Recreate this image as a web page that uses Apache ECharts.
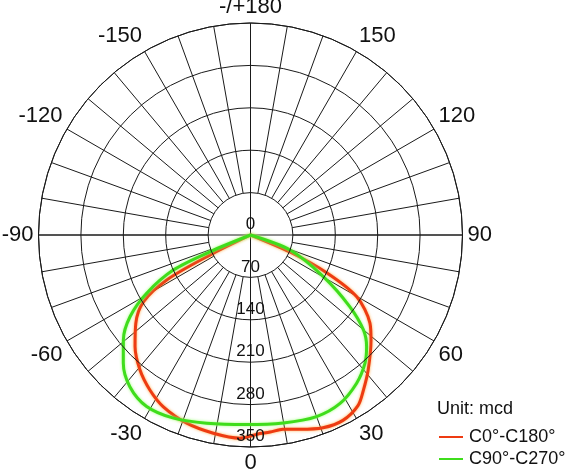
<!DOCTYPE html>
<html>
<head>
<meta charset="utf-8">
<script src="https://cdn.jsdelivr.net/npm/echarts@6/dist/echarts.min.js"></script>
<style>
  html, body { margin: 0; padding: 0; background: #fff; }
  #chart { width: 565px; height: 472px; }
</style>
</head>
<body>
<div id="chart"></div>
<script>
// gamma angle (deg, 0 = down) and intensity (mcd)
var c0Angles = [-90, -63.7, -61.8, -58.1, -52.4, -46.0, -39.3, -33.0, -26.9, -18.7, -10.6, -3.0, 0, 1.9, 5.7, 9.5, 14.3, 20.6, 26.5, 32.2, 36.0, 41.0, 48.9, 53.6, 59.8, 63.6, 66.7, 90]
var c0Values = [0, 75, 157, 208, 239, 265, 288, 305, 318, 328, 333, 336, 332, 329, 327, 325, 331, 340, 342, 333, 317, 296, 264, 245, 203, 141, 71, 0]

var c90Angles = [-90, -67.6, -65.6, -60.7, -55.9, -50.5, -44.8, -38.5, -31.2, -22.8, -13.1, -1.2, 9.9, 20.0, 28.0, 35.6, 41.7, 46.1, 49.9, 54.2, 60.2, 69.2, 90]
var c90Values = [0, 72, 140, 197, 240, 272, 298, 320, 331, 328, 319, 313, 315, 319, 315, 301, 284, 266, 244, 202, 139, 70, 0]

var radiusTicks = [0, 70, 140, 210, 280, 350]
var seriesNames = ['C0°-C180°', 'C90°-C270°']
var unitText = 'Unit: mcd'

var font = "'Liberation Sans', Arial, sans-serif"
var gridColor = '#1a1a1a'

function toPolar(angles, values) {
  var out = []
  for (var i = 0; i < angles.length; i++) {
    var a = angles[i] < 0 ? angles[i] + 360 : angles[i]
    out.push([values[i], a])
  }
  return out
}

function angleLabel(v) {
  if (v % 30 !== 0 || v === 360) return ''
  if (v === 180) return '-/+180'
  if (v > 180) return '-' + (360 - v)
  return String(v)
}

var chart = echarts.init(document.getElementById('chart'))

var option = {
  animation: false,
  backgroundColor: '#fff',
  title: {
    text: unitText,
    left: 437,
    top: 400,
    padding: 0,
    textStyle: { fontFamily: font, fontSize: 18, fontWeight: 'normal', color: '#111' }
  },
  legend: {
    orient: 'vertical',
    left: 439,
    top: 428,
    padding: 0,
    itemGap: 4,
    itemWidth: 24,
    itemHeight: 2,
    icon: 'rect',
    data: seriesNames,
    textStyle: { fontFamily: font, fontSize: 18, color: '#111', padding: [0, 0, 0, 1] }
  },
  polar: [
    { center: [250.5, 235], radius: [0, 212] },
    { center: [250.5, 235], radius: [42.4, 212] }
  ],
  angleAxis: [
    {
      polarIndex: 0,
      type: 'value',
      min: 0,
      max: 360,
      interval: 90,
      startAngle: -90,
      clockwise: false,
      axisLine: { show: true, lineStyle: { color: gridColor, width: 1 } },
      axisTick: { show: false },
      axisLabel: { show: false },
      splitLine: { show: true, lineStyle: { color: gridColor, width: 1 } }
    },
    {
      polarIndex: 1,
      type: 'value',
      min: 0,
      max: 360,
      interval: 10,
      startAngle: -90,
      clockwise: false,
      axisLine: { show: false },
      axisTick: { show: false },
      axisLabel: {
        show: true,
        margin: 5,
        fontFamily: font,
        fontSize: 22,
        color: '#111',
        formatter: angleLabel
      },
      splitLine: { show: true, lineStyle: { color: gridColor, width: 1 } }
    }
  ],
  radiusAxis: [
    {
      polarIndex: 0,
      type: 'value',
      min: radiusTicks[0],
      max: radiusTicks[radiusTicks.length - 1],
      interval: radiusTicks[1] - radiusTicks[0],
      axisLine: { show: false },
      axisTick: { show: false },
      splitLine: { show: true, lineStyle: { color: gridColor, width: 1 } },
      axisLabel: {
        show: true,
        margin: 0,
        align: 'center',
        verticalAlign: 'bottom',
        padding: [0, 0, 2, 0],
        fontFamily: font,
        fontSize: 17,
        color: '#111'
      },
      z: 5
    },
    {
      polarIndex: 1,
      type: 'value',
      min: 0,
      max: 350,
      show: false
    }
  ],
  series: [
    {
      name: seriesNames[0],
      type: 'line',
      coordinateSystem: 'polar',
      polarIndex: 0,
      showSymbol: false,
      smooth: 0.3,
      color: '#ee3b12',
      lineStyle: { width: 3, color: '#ee3b12', shadowColor: 'rgba(255,150,30,0.8)', shadowBlur: 3 },
      data: toPolar(c0Angles, c0Values),
      z: 3
    },
    {
      name: seriesNames[1],
      type: 'line',
      coordinateSystem: 'polar',
      polarIndex: 0,
      showSymbol: false,
      smooth: 0.3,
      color: '#3fdd1c',
      lineStyle: { width: 3, color: '#3fdd1c', shadowColor: 'rgba(150,255,110,0.9)', shadowBlur: 3 },
      data: toPolar(c90Angles, c90Values),
      z: 4
    }
  ]
}

chart.setOption(option)
</script>
</body>
</html>
